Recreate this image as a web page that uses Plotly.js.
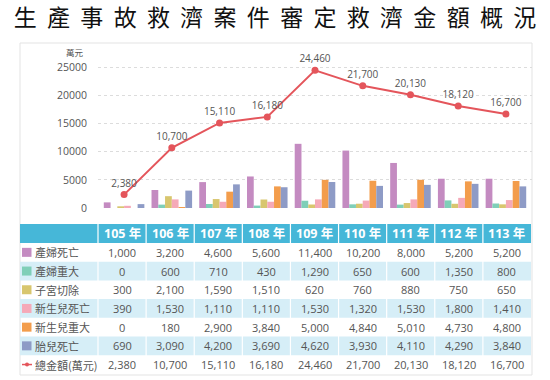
<!DOCTYPE html>
<html>
<head>
<meta charset="utf-8">
<script src="https://cdn.plot.ly/plotly-3.0.1.min.js"></script>
<style>html,body{margin:0;padding:0;background:#fff;}#chart{width:550px;height:380px;}</style>
</head>
<body>
<div id="chart"></div>
<script>
const years = ['105', '106', '107', '108', '109', '110', '111', '112', '113'];
const yearLabels = ['105 年', '106 年', '107 年', '108 年', '109 年', '110 年', '111 年', '112 年', '113 年'];
const seriesNames = ['產婦死亡', '產婦重大', '子宮切除', '新生兒死亡', '新生兒重大', '胎兒死亡'];
const maternalDeath = [1000, 3200, 4600, 5600, 11400, 10200, 8000, 5200, 5200];
const maternalSevere = [0, 600, 710, 430, 1290, 650, 600, 1350, 800];
const hysterectomy = [300, 2100, 1590, 1510, 620, 760, 880, 750, 650];
const neonatalDeath = [390, 1530, 1110, 1110, 1530, 1320, 1530, 1800, 1410];
const neonatalSevere = [0, 180, 2900, 3840, 5000, 4840, 5010, 4730, 4800];
const fetalDeath = [690, 3090, 4200, 3690, 4620, 3930, 4110, 4290, 3840];
const totalName = '總金額(萬元)';
const total = [2380, 10700, 15110, 16180, 24460, 21700, 20130, 18120, 16700];
const yTicks = [0, 5000, 10000, 15000, 20000, 25000];

const colors = ['#c48bc1', '#7fcfb8', '#d8c66e', '#f5a9b8', '#f39d4c', '#8e9bc6'];
const lineColor = '#e4555b';
const seriesData = [maternalDeath, maternalSevere, hysterectomy, neonatalDeath, neonatalSevere, fetalDeath];

const W = 550, H = 380;
const px = v => v / W, py = v => 1 - v / H;

const traces = seriesData.map((vals, i) => ({
  type: 'bar', x: years, y: vals, name: seriesNames[i],
  marker: {color: colors[i]}, hoverinfo: 'y'
}));
traces.push({
  type: 'scatter', mode: 'lines+markers+text', x: years, y: total, name: totalName,
  line: {color: lineColor, width: 2}, marker: {color: lineColor, size: 7},
  texttemplate: '%{y:,}', textposition: 'top center',
  textfont: {family: 'Open Sans, sans-serif', size: 10, color: '#555'},
  cliponaxis: false
});

// ---- table drawn with shapes + annotations ----
const fmt = v => v.toLocaleString('en-US');
const allRows = seriesData.concat([total]);
const tblL = 20, tblR = 531, labW = 78;
const colW = (tblR - tblL - labW) / years.length;
const headTop = 224, headH = 19, rowH = 18.7;
const shapes = [], annotations = [];
const rect = (x0, x1, y0, y1, fill, line) => shapes.push({
  type: 'rect', xref: 'paper', yref: 'paper', x0: px(x0), x1: px(x1), y0: py(y1), y1: py(y0),
  fillcolor: fill, line: line || {width: 0}, layer: 'above'
});
// outer frame
shapes.push({type: 'rect', xref: 'paper', yref: 'paper', x0: px(20), x1: px(532), y0: py(375), y1: py(43),
  line: {color: '#e3e3e3', width: 1}, layer: 'below'});
// header
rect(tblL, tblR, headTop, headTop + headH, '#46b7d8');
yearLabels.forEach((t, c) => {
  const cx = tblL + labW + colW * (c + 0.5);
  annotations.push({text: '<b>' + t + '</b>', xref: 'paper', yref: 'paper', x: px(cx), y: py(headTop + headH / 2),
    showarrow: false, xanchor: 'center', yanchor: 'middle',
    font: {family: 'Open Sans, Noto Sans CJK TC, sans-serif', size: 12.5, color: '#fff'}});
});
// rows
allRows.forEach((row, r) => {
  const y0 = headTop + headH + rowH * r, y1 = y0 + rowH, cy = (y0 + y1) / 2;
  if (r % 2 === 1) rect(tblL, tblR, y0, y1, '#d6eef7');
  // label marker
  if (r < seriesData.length) {
    rect(22, 31.5, cy - 4.5, cy + 4.5, colors[r]);
  } else {
    shapes.push({type: 'line', xref: 'paper', yref: 'paper', x0: px(22), x1: px(32), y0: py(cy), y1: py(cy),
      line: {color: lineColor, width: 1.5}, layer: 'above'});
    shapes.push({type: 'circle', xref: 'paper', yref: 'paper', x0: px(25), x1: px(29), y0: py(cy + 2), y1: py(cy - 2),
      fillcolor: lineColor, line: {width: 0}, layer: 'above'});
  }
  const name = r < seriesNames.length ? seriesNames[r] : totalName;
  annotations.push({text: name, xref: 'paper', yref: 'paper', x: px(33), y: py(cy),
    showarrow: false, xanchor: 'left', yanchor: 'middle',
    font: {family: 'Noto Sans CJK TC, sans-serif', size: 11, color: '#555'}});
  row.forEach((v, c) => {
    const cx = tblL + labW + colW * (c + 0.5);
    annotations.push({text: fmt(v), xref: 'paper', yref: 'paper', x: px(cx), y: py(cy),
      showarrow: false, xanchor: 'center', yanchor: 'middle',
      font: {family: 'Open Sans, sans-serif', size: 11, color: '#555'}});
  });
});
// white vertical separators
for (let c = 0; c < years.length; c++) {
  const x = tblL + labW + colW * c;
  shapes.push({type: 'line', xref: 'paper', yref: 'paper', x0: px(x), x1: px(x), y0: py(374), y1: py(headTop),
    line: {color: '#ffffff', width: 1.2}, layer: 'above'});
}
annotations.push({text: '萬元', xref: 'paper', yref: 'paper', x: px(75), y: py(52), showarrow: false,
  xanchor: 'center', yanchor: 'middle', font: {family: 'Noto Sans CJK TC', size: 8.5, color: '#555'}});

const layout = {
  width: W, height: H, margin: {l: 0, r: 0, t: 0, b: 0},
  paper_bgcolor: '#fff', plot_bgcolor: 'rgba(0,0,0,0)', showlegend: false,
  font: {family: 'Noto Sans CJK TC, sans-serif'},
  title: {
    text: '生\u00a0\u00a0產\u00a0\u00a0事\u00a0\u00a0故\u00a0\u00a0救\u00a0\u00a0濟\u00a0\u00a0案\u00a0\u00a0件\u00a0\u00a0審\u00a0\u00a0定\u00a0\u00a0救\u00a0\u00a0濟\u00a0\u00a0金\u00a0\u00a0額\u00a0\u00a0概\u00a0\u00a0況',
    x: 0.5, xanchor: 'center', y: py(18), yanchor: 'middle',
    font: {family: 'Noto Sans CJK TC', size: 23, color: '#111'}
  },
  barmode: 'group', bargap: 0.15, bargroupgap: 0,
  xaxis: {domain: [px(98), px(532)], showticklabels: false, showgrid: false, zeroline: false, showline: false, ticks: ''},
  yaxis: {
    domain: [py(208), py(56)], range: [0, 27000], tickvals: yTicks, tickformat: 'd',
    showgrid: true, gridcolor: '#dcdcdc', griddash: 'dot', zeroline: false, showline: false,
    ticklabelstandoff: 10, tickfont: {family: 'Open Sans, sans-serif', size: 10.5, color: '#555'}
  },
  annotations: annotations,
  shapes: shapes
};
Plotly.newPlot('chart', traces, layout, {displayModeBar: false, staticPlot: true});
</script>
</body>
</html>
